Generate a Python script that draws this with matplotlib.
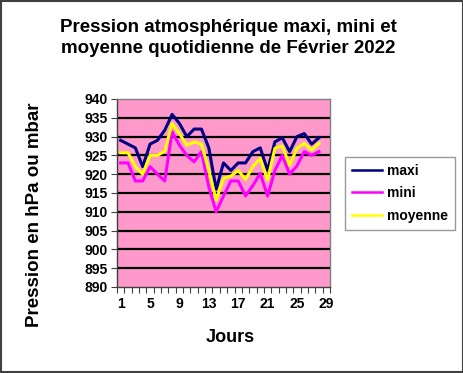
import matplotlib
matplotlib.use("Agg")
import matplotlib.pyplot as plt
from matplotlib.patches import Rectangle

plt.rcParams['font.family'] = ['Liberation Sans', 'DejaVu Sans']

days = list(range(1, 29))
maxi = [929, 928, 927, 922, 928, 929, 931.7, 935.9, 933.5, 930, 932, 932, 927, 916,
        923, 921, 923, 923, 926, 927, 921, 928.6, 929.7, 926, 930, 930.8, 928, 929.7]
mini = [923, 923, 918.2, 918.2, 922, 920, 918.2, 931.3, 927.7, 925, 923.3, 926, 916.6, 910,
        914.2, 918.2, 918.2, 914.2, 917, 920.2, 914.2, 921, 925, 920, 922.2, 926, 925, 926]
moyenne = [925.7, 925.7, 922, 920, 925, 925, 926.1, 933.5, 930.8, 927.7, 928.6, 928, 921, 913.1,
           918.9, 919.5, 921, 918.6, 922, 924.2, 918.4, 926.9, 927.5, 922.4, 926.9, 928.2, 926.4, 928.2]
xtick_labels = [1, 5, 9, 13, 17, 21, 25, 29]
yticks = list(range(890, 941, 5))

fig = plt.figure(figsize=(4.64, 3.73), dpi=100)
ax = fig.add_axes([117/464, 1-287/373, 213/464, 188/373])
ax.set_facecolor('#FF99CC')

for y in yticks[1:-1]:
    ax.axhline(y, color='black', lw=1.6, zorder=1)

ax.plot(days, maxi, color='#000080', lw=2.2, label='maxi', zorder=3)
ax.plot(days, mini, color='#FF00FF', lw=2.2, label='mini', zorder=3)
ax.plot(days, moyenne, color='#FFFF00', lw=2.2, label='moyenne', zorder=4)

ax.set_xlim(0.5, 29.5)
ax.set_ylim(890, 940)
ax.set_yticks(yticks)
ax.set_yticklabels([str(v) for v in yticks], fontsize=10, fontweight='bold')
ax.set_xticks([x + 0.5 for x in range(0, 30)])
ax.set_xticklabels([])
ax.set_xticks(xtick_labels, minor=True)
ax.set_xticklabels([str(v) for v in xtick_labels], minor=True, fontsize=10, fontweight='bold')
ax.tick_params(axis='x', which='major', length=4, width=0.8, direction='out', color='#404040')
ax.tick_params(axis='x', which='minor', length=0, pad=7)
ax.tick_params(axis='y', length=4, width=0.8, direction='out', color='#404040', pad=3)

for s in ['top', 'right']:
    ax.spines[s].set_color('#808080')
    ax.spines[s].set_linewidth(1.0)
for s in ['left', 'bottom']:
    ax.spines[s].set_color('#404040')
    ax.spines[s].set_linewidth(1.0)

fig.text(230/464, 1-338/373, 'Jours', ha='center', va='center', fontsize=13, fontweight='bold')
fig.text(35/464, 1-215/373, 'Pression en hPa ou mbar', ha='center', va='center',
         rotation=90, fontsize=13.5, fontweight='bold')

fig.text(228/464, 1-38/373, 'Pression atmosphérique maxi, mini et\nmoyenne quotidienne de Février 2022',
         ha='center', va='center', fontsize=13.5, fontweight='bold', linespacing=1.25)

leg = ax.legend(loc='upper left', bbox_to_anchor=(345/464, 1-157/373), bbox_transform=fig.transFigure,
                frameon=True, fancybox=False, edgecolor='#808080',
                prop={'weight': 'bold', 'size': 10}, handlelength=2.2, handletextpad=0.3,
                borderpad=0.5, labelspacing=0.6, borderaxespad=0)
leg.get_frame().set_linewidth(1.0)
for line in leg.get_lines():
    line.set_linewidth(1.8)

fig.patches.append(Rectangle((0.002, 0.002), 0.995, 0.995, transform=fig.transFigure,
                             fill=False, edgecolor='#404040', lw=1.5))

fig.savefig('out.png', dpi=100)
